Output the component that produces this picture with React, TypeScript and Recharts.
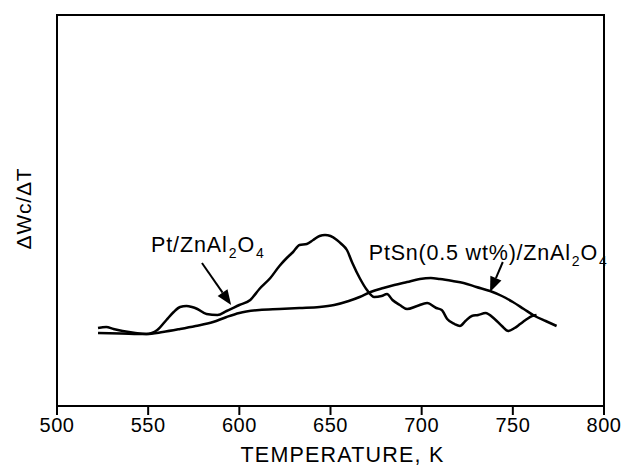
import React from 'react';
import { LineChart, Line, XAxis, YAxis, ReferenceArea, ReferenceLine, ReferenceDot } from 'recharts';

// Temperature (K) and signal (arbitrary units) for Pt/ZnAl2O4
const ptTemps = [522.5, 527, 531, 536, 543, 549, 555, 560, 564, 567.5, 571, 574, 577, 582, 588, 593, 600, 606, 611, 617, 622, 626, 629.5, 633, 637, 640.5, 644, 647, 650, 653.5, 656, 659, 662, 666, 670, 674, 678, 681, 684, 688, 692, 697.5, 703, 708, 711, 714, 718, 721, 724, 727.5, 731, 735, 740, 744, 747.5, 751, 754, 757, 760.5, 763];
const ptValues = [78, 79, 77, 75, 73, 72, 76, 86, 94, 99, 100, 99, 97, 92, 91, 95, 101, 106, 117, 128, 140, 148, 154, 161, 162, 166, 170, 171, 170, 166, 162, 156, 143, 128, 116, 109, 110, 112, 106, 101, 97, 100, 103, 98, 96, 87, 82, 80, 85, 90, 91, 93, 87, 80, 75, 78, 82, 86, 90, 91];

// Temperature (K) and signal (arbitrary units) for PtSn(0.5 wt%)/ZnAl2O4
const ptSnTemps = [522.5, 535, 549, 558, 567.5, 576, 585.6, 593, 600, 611, 622, 633, 644, 652, 660, 666, 672, 679, 685, 692, 699, 705, 710, 717, 723, 730, 737.5, 744, 750, 756, 762, 768, 774];
const ptSnValues = [73, 72.5, 72, 74, 77, 80, 84, 89, 93, 96, 97, 98, 99, 101, 105, 109, 114, 118, 121, 124, 127, 128, 127, 125, 123, 119, 115, 110, 104, 97, 90, 85, 80];

const xTicks = [500, 550, 600, 650, 700, 750, 800];
const xDomain = [500, 800];
const yDomain = [0, 391];

const xTitle = 'TEMPERATURE, K';
const yTitle = 'ΔWc/ΔT';

const ptData = ptTemps.map((t, i) => ({ t, v: ptValues[i] }));
const ptSnData = ptSnTemps.map((t, i) => ({ t, v: ptSnValues[i] }));

const FONT = '"Liberation Sans", Arial, Helvetica, sans-serif';

const Arrow = (p: any) => {
  const { x1, y1, x2, y2 } = p;
  const dx = x2 - x1;
  const dy = y2 - y1;
  const len = Math.sqrt(dx * dx + dy * dy) || 1;
  const ux = dx / len;
  const uy = dy / len;
  const hl = 15;
  const hw = 6;
  const bx = x2 - ux * hl;
  const by = y2 - uy * hl;
  const pts = `${x2},${y2} ${bx - uy * hw},${by + ux * hw} ${bx + uy * hw},${by - ux * hw}`;
  return (
    <g>
      <line x1={x1} y1={y1} x2={bx} y2={by} stroke="#000" strokeWidth={2} />
      <polygon points={pts} fill="#000" />
    </g>
  );
};

const PtLabel = (p: any) => (
  <text x={p.cx} y={p.cy} fontFamily={FONT} fontSize={21.5} letterSpacing={0.9} fill="#000">
    Pt/ZnAl<tspan fontSize={14} dy={6} dx={1}>2</tspan>
    <tspan dy={-6}>O</tspan>
    <tspan fontSize={14} dy={6} dx={1}>4</tspan>
  </text>
);

const PtSnLabel = (p: any) => (
  <text x={p.cx} y={p.cy} fontFamily={FONT} fontSize={21.5} letterSpacing={0.8} fill="#000">
    PtSn(0.5 wt%)/ZnAl<tspan fontSize={14} dy={6} dx={1}>2</tspan>
    <tspan dy={-6}>O</tspan>
    <tspan fontSize={14} dy={6} dx={1}>4</tspan>
  </text>
);

const XTitle = (p: any) => {
  const vb = p.viewBox || {};
  return (
    <text x={vb.x + vb.width / 2 + 12} y={vb.y + 56} textAnchor="middle" fontFamily={FONT} fontSize={21.5} letterSpacing={1.2} fill="#000">
      {xTitle}
    </text>
  );
};

const YTitle = (p: any) => {
  const vb = p.viewBox || {};
  const cx = vb.x + 31;
  const cy = vb.y + vb.height / 2 - 2;
  return (
    <text x={cx} y={cy} transform={`rotate(-90, ${cx}, ${cy})`} textAnchor="middle" fontFamily={FONT} fontSize={21} letterSpacing={0.8} fill="#000">
      {yTitle}
    </text>
  );
};

export default function App() {
  return (
    <div style={{ position: 'absolute', left: 0, top: 0, width: 623, height: 476, background: '#fff' }}>
      <LineChart width={623} height={476} margin={{ top: 15, right: 19, left: 0, bottom: 0 }}>
        <XAxis
          type="number"
          dataKey="t"
          domain={xDomain}
          ticks={xTicks}
          allowDataOverflow
          height={70}
          axisLine={false}
          tickLine={{ stroke: '#000', strokeWidth: 2 }}
          tickSize={9}
          tickMargin={3}
          tick={{ fill: '#000', fontSize: 20, fontFamily: FONT, letterSpacing: 0.5 }}
          label={{ content: XTitle }}
        />
        <YAxis
          type="number"
          dataKey="v"
          domain={yDomain}
          allowDataOverflow
          width={57}
          tick={false}
          tickLine={false}
          axisLine={false}
          label={{ content: YTitle }}
        />
        <ReferenceArea x1={500} x2={800} y1={0} y2={391} fill="none" stroke="#000" strokeWidth={2} ifOverflow="visible" />
        <Line data={ptSnData} dataKey="v" type="monotone" stroke="#000" strokeWidth={2.5} dot={false} isAnimationActive={false} />
        <Line data={ptData} dataKey="v" type="monotone" stroke="#000" strokeWidth={2.5} dot={false} isAnimationActive={false} />
        <ReferenceLine segment={[{ x: 579.5, y: 143 }, { x: 595.5, y: 101 }]} shape={Arrow} ifOverflow="visible" />
        <ReferenceLine segment={[{ x: 744.5, y: 144 }, { x: 737.5, y: 114 }]} shape={Arrow} ifOverflow="visible" />
        <ReferenceDot x={551.5} y={154} r={0} shape={PtLabel} ifOverflow="visible" />
        <ReferenceDot x={671} y={146} r={0} shape={PtSnLabel} ifOverflow="visible" />
      </LineChart>
    </div>
  );
}
